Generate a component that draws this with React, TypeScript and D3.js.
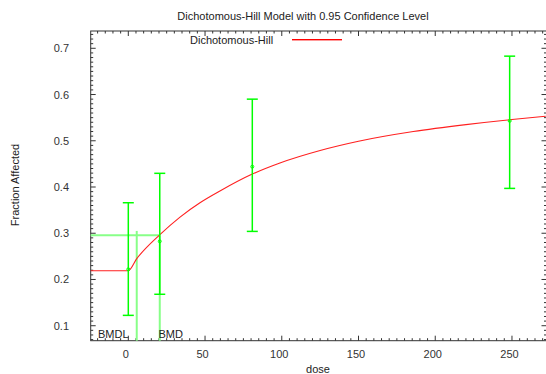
import * as d3 from 'd3';

const DOSES = [0, 20.5, 80.8, 248.5];
const MEANS = [0.222, 0.2825, 0.444, 0.543];
const LOWER = [0.1224, 0.168, 0.304, 0.397];
const UPPER = [0.366, 0.4296, 0.59, 0.683];

// fitted model curve
const CURVE_DOSE = [-24.5, 0, 5.5, 20.6, 33.7, 46.7, 60, 80.8, 98.8, 125, 150, 185.7, 220, 250, 272];
const CURVE_P = [0.219, 0.219, 0.245, 0.297, 0.335, 0.366, 0.392, 0.428, 0.452, 0.479, 0.499, 0.52, 0.535, 0.546, 0.553];

const BMD = 20.5;
const BMDL = 5.5;
const BMR_LEVEL = 0.2955;
const BMDL_TOP = 0.305;

const X_TICKS = [0, 50, 100, 150, 200, 250];
const Y_TICKS = [0.1, 0.2, 0.3, 0.4, 0.5, 0.6, 0.7];

const W = 546;
const H = 374;
const FONT = 'Liberation Sans, Arial, sans-serif';

export default function App() {
  const left = 90.7;
  const right = 546.5;
  const top = 31;
  const bottom = 340.7;

  const x = d3.scaleLinear().domain([-24.5, 272.5]).range([left, right]);
  const y = d3.scaleLinear().domain([0.0676, 0.7374]).range([bottom, top]);

  const line = d3.line<number>()
    .x((_, i) => x(CURVE_DOSE[i]))
    .y(d => y(d))
    .curve(d3.curveMonotoneX);

  const xMinor = d3.range(-20, 272, 5);
  const yMinor = d3.range(7, 74).map(v => v / 100);

  const green = '#00ff00';
  const lightGreen = '#88ff88';
  const axisColor = '#333';

  return (
    <svg width={W} height={H} style={{ position: 'absolute', left: 0, top: 0, background: '#fff' }}>
      {/* Title */}
      <text x={303} y={20} textAnchor="middle" fontSize={11} fontFamily={FONT} fill="#222">
        Dichotomous-Hill Model with 0.95 Confidence Level
      </text>

      {/* Frame */}
      <rect x={left} y={top} width={right - left} height={bottom - top} fill="none" stroke={axisColor} strokeWidth={1} />

      {/* Minor/major ticks on x (bottom and top) */}
      {xMinor.map(v => {
        const major = X_TICKS.includes(v);
        const len = major ? 5 : 2.5;
        return (
          <g key={`xt-${v}`}>
            <line x1={x(v)} x2={x(v)} y1={bottom} y2={bottom - len} stroke={axisColor} />
            <line x1={x(v)} x2={x(v)} y1={top} y2={top + len} stroke={axisColor} />
          </g>
        );
      })}

      {/* Minor/major ticks on y (left and right) */}
      {yMinor.map(v => {
        const major = Math.round(v * 100) % 10 === 0;
        const len = major ? 5 : 2.5;
        return (
          <g key={`yt-${v}`}>
            <line x1={left} x2={left + len} y1={y(v)} y2={y(v)} stroke={axisColor} />
            <line x1={right} x2={right - len} y1={y(v)} y2={y(v)} stroke={axisColor} />
          </g>
        );
      })}

      {/* Tick labels */}
      {X_TICKS.map(t => (
        <text key={`xl-${t}`} x={x(t) - 2.5} y={358} textAnchor="middle" fontSize={11} fontFamily={FONT} fill="#333">
          {t}
        </text>
      ))}
      {Y_TICKS.map(t => (
        <text key={`yl-${t}`} x={69} y={y(t) + 4} textAnchor="end" fontSize={11} fontFamily={FONT} fill="#333">
          {t.toFixed(1)}
        </text>
      ))}

      {/* Axis titles */}
      <text x={318} y={373} textAnchor="middle" fontSize={11} fontFamily={FONT} fill="#222">dose</text>
      <text
        transform={`translate(19, 185) rotate(-90)`}
        textAnchor="middle" fontSize={11} fontFamily={FONT} fill="#222"
      >
        Fraction Affected
      </text>

      {/* Legend */}
      <text x={190} y={44} fontSize={11} fontFamily={FONT} fill="#222">Dichotomous-Hill</text>
      <rect x={292} y={39} width={50} height={1.4} fill="#ff0000" />

      {/* BMD / BMDL lines */}
      <line x1={left} x2={x(BMD)} y1={y(BMR_LEVEL)} y2={y(BMR_LEVEL)} stroke={lightGreen} strokeWidth={2} />
      <line x1={x(BMD)} x2={x(BMD)} y1={bottom} y2={y(BMR_LEVEL)} stroke={lightGreen} strokeWidth={2} />
      <line x1={x(BMDL)} x2={x(BMDL)} y1={bottom} y2={y(BMDL_TOP)} stroke={lightGreen} strokeWidth={2} />

      {/* Model curve */}
      <path d={line(CURVE_P) ?? ''} fill="none" stroke="#ff2020" strokeWidth={1.1} />

      {/* Error bars */}
      {DOSES.map((d, i) => (
        <g key={`eb-${i}`}>
          <line x1={x(d)} x2={x(d)} y1={y(LOWER[i])} y2={y(UPPER[i])} stroke={green} strokeWidth={1.5} />
          <line x1={x(d) - 5.5} x2={x(d) + 5.5} y1={y(LOWER[i])} y2={y(LOWER[i])} stroke={green} strokeWidth={1.5} />
          <line x1={x(d) - 5.5} x2={x(d) + 5.5} y1={y(UPPER[i])} y2={y(UPPER[i])} stroke={green} strokeWidth={1.5} />
          <circle cx={x(d)} cy={y(MEANS[i])} r={1.5} fill="none" stroke={green} strokeWidth={1} />
        </g>
      ))}

      {/* BMD labels */}
      <text x={98} y={338} fontSize={11} fontFamily={FONT} fill="#222">BMDL</text>
      <text x={158.5} y={338} fontSize={11} fontFamily={FONT} fill="#222">BMD</text>
    </svg>
  );
}
